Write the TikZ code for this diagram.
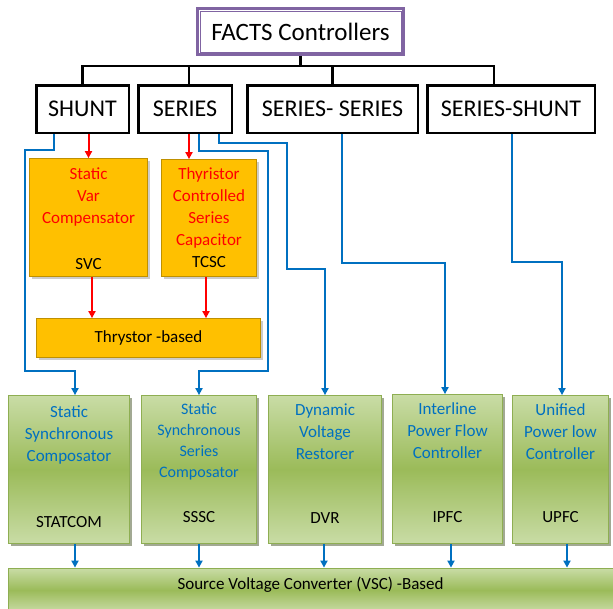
\documentclass[tikz,border=0pt]{standalone}
\usepackage{fontspec}
\setmainfont{Carlito}
\usetikzlibrary{arrows.meta,shadows}

\definecolor{factspurple}{HTML}{8064A2}
\definecolor{svcorange}{HTML}{FFC000}
\definecolor{orangeedge}{HTML}{BF9000}
\definecolor{vscgreen}{HTML}{9BBB59}
\definecolor{vsclight}{HTML}{C9DCA6}
\definecolor{greenedge}{HTML}{8EAE52}
\definecolor{linkblue}{HTML}{0070C0}

\begin{document}
\begin{tikzpicture}[
    x=1pt,y=-1pt,
    type box/.style={draw=black,line width=2.5pt,fill=white,inner sep=0pt,minimum height=47.5pt,
        font=\fontsize{24}{28}\selectfont,drop shadow={shadow xshift=1.5pt,shadow yshift=-1.5pt,fill=black!35}},
    thy box/.style={draw=orangeedge,line width=0.8pt,fill=svcorange,inner sep=0pt,
        drop shadow={shadow xshift=2pt,shadow yshift=-2pt,fill=black!40}},
    vsc box/.style={draw=greenedge,line width=0.8pt,top color=vsclight,bottom color=vsclight,middle color=vscgreen,
        inner sep=0pt,drop shadow={shadow xshift=2.5pt,shadow yshift=-2.5pt,fill=black!55!vscgreen}},
    red txt/.style={text=red,align=center,font=\fontsize{17}{22}\selectfont},
    blue txt/.style={text=linkblue,align=center,font=\fontsize{17}{22}\selectfont},
    abbr/.style={text=black,font=\fontsize{17}{22}\selectfont},
    tree/.style={line width=2.5pt},
    red link/.style={-{Triangle[length=7pt,width=7pt]},line width=2pt,red},
    blue link/.style={-{Triangle[length=7pt,width=7pt]},line width=2pt,linkblue}
]

\useasboundingbox (0,0) rectangle (613,608);

% root
\node[draw=factspurple,line width=3pt,fill=white,minimum width=206pt,minimum height=46pt,inner sep=0pt,
      font=\fontsize{25}{29}\selectfont] (facts) at (300.5,31.5) {FACTS Controllers};
\draw[factspurple,line width=0.8pt] ([shift={(4pt,4pt)}]facts.south west) rectangle ([shift={(-4pt,-4pt)}]facts.north east);

% connection types
\node[type box,minimum width=92.5pt] (shunt) at (82.5,109) {SHUNT};
\node[type box,minimum width=93.5pt] (series) at (185,109) {SERIES};
\node[type box,minimum width=170.5pt] (serser) at (332.5,109) {SERIES- SERIES};
\node[type box,minimum width=167.5pt] (sershunt) at (511,109) {SERIES-SHUNT};

\coordinate (bus) at (0,66);
\draw[tree] (facts.south) -- (facts.south |- bus);
\draw[tree] (shunt.north) -- (shunt.north |- bus) -- ([xshift=-17pt]sershunt.north |- bus) -- ([xshift=-17pt]sershunt.north);
\draw[tree] ([xshift=4pt]series.north) -- ([xshift=4pt]series.north |- bus);
\draw[tree] (serser.north) -- (serser.north |- bus);

% thyristor based
\node[thy box,minimum width=118pt,minimum height=118pt] (svc) at (88.5,217.5) {};
\node[thy box,minimum width=95pt,minimum height=117pt] (tcsc) at (209,218) {};
\node[thy box,minimum width=224pt,minimum height=39pt,font=\fontsize{17}{22}\selectfont] (thry) at (148.5,338) {Thrystor -based};

\node[red txt] (svcname) at (88.5,197) {Static\\Var\\Compensator};
\node[abbr] (svcabbr) at (88.5,264) {SVC};
\node[red txt] (tcscname) at (209,208) {Thyristor\\Controlled\\Series\\Capacitor};
\node[abbr] (tcscabbr) at (209,262) {TCSC};

\draw[red link] (svc.north |- shunt.south) -- (svc.north);
\draw[red link] ([xshift=4pt]series.south) -- ([xshift=4pt]series.south |- tcsc.north);
\draw[red link] ([xshift=3.5pt]svc.south) -- ([xshift=3.5pt]svc.south |- thry.north);
\draw[red link] ([xshift=-3pt]tcsc.south) -- ([xshift=-3pt]tcsc.south |- thry.north);

% converter based
\node[vsc box,minimum width=121pt,minimum height=148pt] (statcom) at (69,469.5) {};
\node[vsc box,minimum width=115pt,minimum height=148pt] (sssc) at (199,469.5) {};
\node[vsc box,minimum width=113pt,minimum height=148pt] (dvr) at (325,469.5) {};
\node[vsc box,minimum width=110pt,minimum height=149pt] (ipfc) at (447.5,469) {};
\node[vsc box,minimum width=96pt,minimum height=148pt] (upfc) at (560.5,469.5) {};

\node[blue txt] (statcomname) at (69,435) {Static\\Synchronous\\Composator};
\node[abbr] (statcomabbr) at (69,522) {STATCOM};
\node[blue txt,font=\fontsize{16}{21}\selectfont] (ssscname) at (199,442) {Static\\Synchronous\\Series\\Composator};
\node[abbr] (ssscabbr) at (199,517) {SSSC};
\node[blue txt] (dvrname) at (325,432) {Dynamic\\Voltage\\Restorer};
\node[abbr] (dvrabbr) at (325,518) {DVR};
\node[blue txt] (ipfcname) at (447.5,431) {Interline\\Power Flow\\Controller};
\node[abbr] (ipfcabbr) at (447.5,517) {IPFC};
\node[blue txt] (upfcname) at (560.5,432) {Unified\\Power low\\Controller};
\node[abbr] (upfcabbr) at (560.5,517) {UPFC};

\node[vsc box,minimum width=605pt,minimum height=44pt] (vsc) at (310.5,590) {};
\node[abbr] (vsctext) at (310.5,585) {Source Voltage Converter (VSC) -Based};

% links to converters
\draw[blue link] ([xshift=-28.5pt]shunt.south) -- ++(0,16) -| (25,371) -| ([xshift=6pt]statcom.north);
\draw[blue link] ([xshift=14pt]series.south) -- ++(0,17) -| (268,371) -| (sssc.north);
\draw[blue link] ([xshift=34pt]series.south) -- ++(0,9) -| (287,269) -| (dvr.north);
\draw[blue link] ([xshift=9.5pt]serser.south) -- ++(0,129) -| ([xshift=-2.5pt]ipfc.north);
\draw[blue link] ([xshift=1pt]sershunt.south) -- ++(0,128) -| ([xshift=1.5pt]upfc.north);

\draw[blue link] ([xshift=6pt]statcom.south) -- ([xshift=6pt]statcom.south |- vsc.north);
\draw[blue link] (sssc.south) -- (sssc.south |- vsc.north);
\draw[blue link] ([xshift=-1pt]dvr.south) -- ([xshift=-1pt]dvr.south |- vsc.north);
\draw[blue link] ([xshift=3.5pt]ipfc.south) -- ([xshift=3.5pt]ipfc.south |- vsc.north);
\draw[blue link] ([xshift=6.5pt]upfc.south) -- ([xshift=6.5pt]upfc.south |- vsc.north);

\end{tikzpicture}
\end{document}
